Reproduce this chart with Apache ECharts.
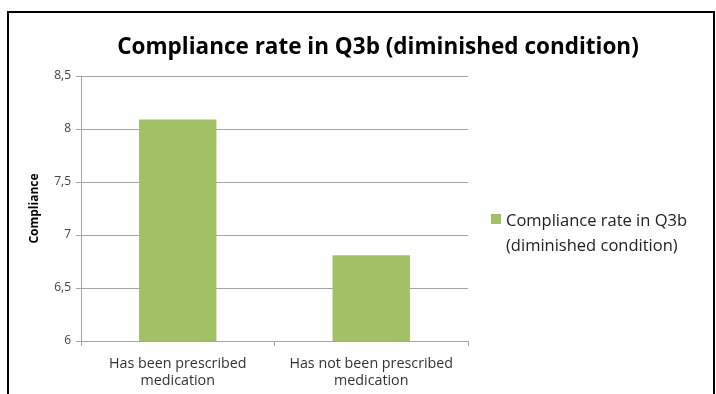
<!DOCTYPE html>
<html>
<head>
<meta charset="utf-8">
<script src="https://cdn.jsdelivr.net/npm/echarts@6/dist/echarts.min.js"></script>
<style>
  html, body { margin: 0; padding: 0; background: #fff; }
  #chart { width: 716px; height: 394px; }
</style>
</head>
<body>
<div id="chart"></div>
<script>
// Compliance by medication status
const categories = ['Has been prescribed\nmedication', 'Has not been prescribed\nmedication'];
const complianceValues = [8.09, 6.81];
const seriesName = 'Compliance rate in Q3b\n(diminished condition)';
const titleText = 'Compliance rate in Q3b (diminished condition)';
const axisName = 'Compliance';

const fontFamily = '"Open Sans", "Noto Sans", sans-serif';
const chart = echarts.init(document.getElementById('chart'), null, { renderer: 'canvas' });

chart.setOption({
  animation: false,
  backgroundColor: '#ffffff',
  title: {
    text: titleText,
    left: 373,
    top: 31,
    textAlign: 'center',
    textStyle: { fontFamily, fontSize: 22.5, fontWeight: 'bold', color: '#000' }
  },
  legend: {
    data: [seriesName],
    left: 486,
    top: 204,
    orient: 'vertical',
    itemWidth: 10,
    itemHeight: 40,
    // square swatch at the top of a taller box, so it sits beside the first text line
    icon: 'path://M0,0L10,0L10,10L0,10Z M0,40L0,40',
    textStyle: { fontFamily, fontSize: 16.5, color: '#222', lineHeight: 25 }
  },
  grid: { left: 81, right: 248, top: 76, bottom: 53 },
  xAxis: {
    type: 'category',
    data: categories,
    axisLine: { lineStyle: { color: '#a6a6a6' } },
    axisTick: { show: true, length: 5, lineStyle: { color: '#a6a6a6' } },
    axisLabel: { interval: 0, fontFamily, fontSize: 14.3, color: '#333', lineHeight: 17, margin: 14 }
  },
  yAxis: {
    type: 'value',
    min: 6,
    max: 8.5,
    interval: 0.5,
    name: axisName,
    nameLocation: 'middle',
    nameGap: 40,
    nameRotate: 90,
    nameTextStyle: { fontFamily, fontSize: 12, fontWeight: 'bold', color: '#000' },
    axisLine: { show: true, lineStyle: { color: '#a6a6a6' } },
    axisTick: { show: true, length: 5, lineStyle: { color: '#a6a6a6' } },
    splitLine: { lineStyle: { color: '#a6a6a6' } },
    axisLabel: {
      fontFamily, fontSize: 12, color: '#444', margin: 10,
      formatter: v => String(v).replace('.', ',')
    }
  },
  series: [{
    name: seriesName,
    type: 'bar',
    data: complianceValues,
    barWidth: '40%',
    itemStyle: { color: '#a2c166' }
  }],
  graphic: [{
    type: 'rect',
    shape: { x: 8, y: 12, width: 706, height: 400 },
    style: { fill: 'none', stroke: '#000', lineWidth: 2 },
    silent: true
  }]
});
</script>
</body>
</html>
